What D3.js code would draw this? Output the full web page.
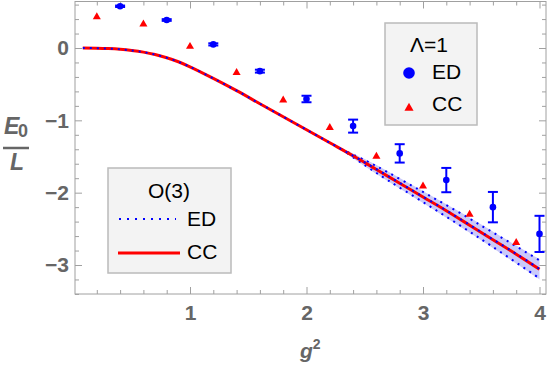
<!DOCTYPE html>
<html>
<head>
<meta charset="utf-8">
<script src="https://cdn.jsdelivr.net/npm/d3@7"></script>
<style>
  body { margin: 0; background: #fff; }
  svg { display: block; font-family: "Liberation Sans", Arial, sans-serif; }
</style>
</head>
<body>
<svg id="chart" width="552" height="366"></svg>
<script>
"use strict";

// Lambda = 1 data points
var ed_g2 = [0.4, 0.8, 1.2, 1.6, 2.0, 2.4, 2.8, 3.2, 3.6, 4.0];
var ed_e = [0.577, 0.387, 0.05, -0.32, -0.705, -1.08, -1.457, -1.826, -2.20, -2.57];
var ed_err = [0.01, 0.012, 0.015, 0.02, 0.045, 0.09, 0.127, 0.168, 0.21, 0.25];

var cc_g2 = [0.2, 0.6, 1.0, 1.4, 1.8, 2.2, 2.6, 3.0, 3.4, 3.8];
var cc_e = [0.43, 0.33, 0.02, -0.34, -0.72, -1.10, -1.50, -1.91, -2.30, -2.69];

// O(3) curves
var curve_g2 = [0.08, 0.2, 0.3, 0.4, 0.5, 0.6, 0.7, 0.8, 0.9, 1.0, 1.2, 1.4, 1.6,
                1.8, 2.0, 2.2, 2.4, 2.6, 2.8, 3.0, 3.2, 3.4, 3.6, 3.8, 4.0];
var curve_cc = [0, -0.002, -0.008, -0.018, -0.034, -0.057, -0.09, -0.135, -0.19, -0.26,
                -0.42, -0.59, -0.77, -0.95, -1.13, -1.31, -1.49, -1.68, -1.87, -2.06,
                -2.25, -2.45, -2.65, -2.85, -3.06];
var curve_ed = [0, -0.002, -0.008, -0.018, -0.034, -0.057, -0.09, -0.135, -0.19, -0.26,
                -0.42, -0.59, -0.77, -0.95, -1.13, -1.31, -1.49, -1.675, -1.865, -2.055,
                -2.245, -2.445, -2.645, -2.845, -3.055];

// ED error band
var band_g2 = [2.3, 2.5, 2.7, 3.0, 3.3, 3.6, 4.0];
var band_hi = [-1.40, -1.55, -1.72, -1.99, -2.265, -2.55, -2.935];
var band_lo = [-1.40, -1.62, -1.83, -2.13, -2.435, -2.75, -3.185];

var x_major = [1, 2, 3, 4];
var y_major = [0, -1, -2, -3];

var svg = d3.select("#chart");
var frame = {left: 75, right: 546, top: 1.5, bottom: 294};

var x = d3.scaleLinear().domain([0, 4]).range([73.5, 539.5]);
var y = d3.scaleLinear().domain([0, -3]).range([48, 265]);

var x_minor = d3.range(1, 21).map(function(i) { return i / 5; })
    .filter(function(v) { return x_major.indexOf(v) === -1; });
var y_minor = d3.range(-17, 4).map(function(i) { return i / 5; })
    .filter(function(v) { return y_major.indexOf(v) === -1; });

var axis_color = "#a0a0a0";
var label_color = "#666";
var smooth = d3.curveCatmullRom.alpha(0.5);

// frame
svg.append("rect")
    .attr("x", frame.left).attr("y", frame.top)
    .attr("width", frame.right - frame.left)
    .attr("height", frame.bottom - frame.top)
    .attr("fill", "none").attr("stroke", axis_color).attr("stroke-width", 1);

function draw_axis(axis, transform, show_labels) {
    var g = svg.append("g").attr("transform", transform).call(axis);
    g.select(".domain").remove();
    g.selectAll("line").attr("stroke", axis_color);
    if (show_labels) {
        g.selectAll("text")
            .attr("fill", label_color)
            .style("font-size", "21px")
            .style("font-weight", "bold");
    } else {
        g.selectAll("text").remove();
    }
    return g;
}

// bottom / left with labels, top / right without
draw_axis(d3.axisBottom(x).tickValues(x_major).tickSize(-7).tickPadding(11).tickFormat(d3.format("d")),
    "translate(0," + frame.bottom + ")", true);
draw_axis(d3.axisBottom(x).tickValues(x_minor).tickSize(-4),
    "translate(0," + frame.bottom + ")", false);
draw_axis(d3.axisLeft(y).tickValues(y_major).tickSize(-7).tickPadding(6).tickFormat(d3.format("d")),
    "translate(" + frame.left + ",0)", true);
draw_axis(d3.axisLeft(y).tickValues(y_minor).tickSize(-4),
    "translate(" + frame.left + ",0)", false);
draw_axis(d3.axisTop(x).tickValues(x_major).tickSize(-7),
    "translate(0," + frame.top + ")", false);
draw_axis(d3.axisTop(x).tickValues(x_minor).tickSize(-4),
    "translate(0," + frame.top + ")", false);
draw_axis(d3.axisRight(y).tickValues(y_major).tickSize(-7),
    "translate(" + frame.right + ",0)", false);
draw_axis(d3.axisRight(y).tickValues(y_minor).tickSize(-4),
    "translate(" + frame.right + ",0)", false);

// axis labels
var ylab = svg.append("g").attr("fill", label_color).style("font-weight", "bold");
ylab.append("text").attr("x", 4).attr("y", 134)
    .style("font-size", "23px").style("font-style", "italic").text("E");
ylab.append("text").attr("x", 18).attr("y", 137)
    .style("font-size", "18px").text("0");
ylab.append("line").attr("x1", 3).attr("x2", 29).attr("y1", 148).attr("y2", 148)
    .attr("stroke", label_color).attr("stroke-width", 2.5);
ylab.append("text").attr("x", 10).attr("y", 170)
    .style("font-size", "23px").style("font-style", "italic").text("L");

var xlab = svg.append("text").attr("x", 300).attr("y", 358)
    .attr("fill", label_color).style("font-weight", "bold").style("font-size", "21px");
xlab.append("tspan").style("font-style", "italic").text("g");
xlab.append("tspan").attr("dy", -9).style("font-size", "14px").text("2");

// plot area
var plot = svg.append("g");

var band = band_g2.map(function(g, i) { return {g: g, hi: band_hi[i], lo: band_lo[i]}; });
plot.append("path")
    .datum(band)
    .attr("fill", "#cacafa")
    .attr("d", d3.area().curve(smooth)
        .x(function(d) { return x(d.g); })
        .y0(function(d) { return y(d.lo) + 1; })
        .y1(function(d) { return y(d.hi) - 1; }));

var dotted = {stroke: "#0000ff", width: 2, dash: "2,5"};
["hi", "lo"].forEach(function(key) {
    plot.append("path")
        .datum(band)
        .attr("fill", "none")
        .attr("stroke", dotted.stroke)
        .attr("stroke-width", dotted.width)
        .attr("stroke-dasharray", dotted.dash)
        .attr("d", d3.line().curve(smooth)
            .x(function(d) { return x(d.g); })
            .y(function(d) { return y(d[key]); }));
});

var cc_line = curve_g2.map(function(g, i) { return [x(g), y(curve_cc[i])]; });
var ed_line = curve_g2.map(function(g, i) { return [x(g), y(curve_ed[i])]; });

plot.append("path")
    .attr("d", d3.line().curve(smooth)(cc_line))
    .attr("fill", "none").attr("stroke", "#ff0000").attr("stroke-width", 3);
plot.append("path")
    .attr("d", d3.line().curve(smooth)(ed_line))
    .attr("fill", "none").attr("stroke", dotted.stroke)
    .attr("stroke-width", dotted.width).attr("stroke-dasharray", dotted.dash);

// CC triangles
var tri = d3.symbol().type(d3.symbolTriangle).size(28);
plot.selectAll(".cc")
    .data(cc_g2)
    .enter().append("path")
    .attr("class", "cc")
    .attr("transform", function(d, i) { return "translate(" + x(d) + "," + y(cc_e[i]) + ")"; })
    .attr("d", tri)
    .attr("fill", "#ff0000");

// ED points with error bars
var ed = plot.selectAll(".ed")
    .data(ed_g2)
    .enter().append("g")
    .attr("class", "ed")
    .attr("stroke", "#0000ff")
    .attr("stroke-width", 2);
ed.append("line")
    .attr("x1", function(d) { return x(d); })
    .attr("x2", function(d) { return x(d); })
    .attr("y1", function(d, i) { return y(ed_e[i] + ed_err[i]); })
    .attr("y2", function(d, i) { return y(ed_e[i] - ed_err[i]); });
[1, -1].forEach(function(sign) {
    ed.append("line")
        .attr("x1", function(d) { return x(d) - 5; })
        .attr("x2", function(d) { return x(d) + 5; })
        .attr("y1", function(d, i) { return y(ed_e[i] + sign * ed_err[i]); })
        .attr("y2", function(d, i) { return y(ed_e[i] + sign * ed_err[i]); });
});
ed.append("circle")
    .attr("cx", function(d) { return x(d); })
    .attr("cy", function(d, i) { return y(ed_e[i]); })
    .attr("r", 3.3)
    .attr("fill", "#0000ff")
    .attr("stroke", "none");

// legend: Lambda = 1
var leg1 = svg.append("g").style("font-size", "21px").attr("fill", "#000");
leg1.append("rect").attr("x", 385).attr("y", 23).attr("width", 92).attr("height", 102)
    .attr("fill", "#f3f3f3").attr("stroke", "#bbb").attr("stroke-width", 1.5);
leg1.append("text").attr("x", 429).attr("y", 52).attr("text-anchor", "middle").text("\u039b=1");
leg1.append("circle").attr("cx", 409).attr("cy", 73).attr("r", 5.8).attr("fill", "#0000ff");
leg1.append("text").attr("x", 432).attr("y", 79).text("ED");
leg1.append("path").attr("transform", "translate(409,108)")
    .attr("d", d3.symbol().type(d3.symbolTriangle).size(36)).attr("fill", "#ff0000");
leg1.append("text").attr("x", 432).attr("y", 111).text("CC");

// legend: O(3)
var leg2 = svg.append("g").style("font-size", "21px").attr("fill", "#000");
leg2.append("rect").attr("x", 108).attr("y", 168).attr("width", 123).attr("height", 105)
    .attr("fill", "#f3f3f3").attr("stroke", "#bbb").attr("stroke-width", 1.5);
leg2.append("text").attr("x", 169).attr("y", 198).attr("text-anchor", "middle").text("O(3)");
leg2.append("line").attr("x1", 119).attr("x2", 176).attr("y1", 219).attr("y2", 219)
    .attr("stroke", "#0000ff").attr("stroke-width", 2).attr("stroke-dasharray", "2,6");
leg2.append("text").attr("x", 187).attr("y", 226).text("ED");
leg2.append("line").attr("x1", 118).attr("x2", 180).attr("y1", 253).attr("y2", 253)
    .attr("stroke", "#ff0000").attr("stroke-width", 3);
leg2.append("text").attr("x", 187).attr("y", 259).text("CC");
</script>
</body>
</html>
